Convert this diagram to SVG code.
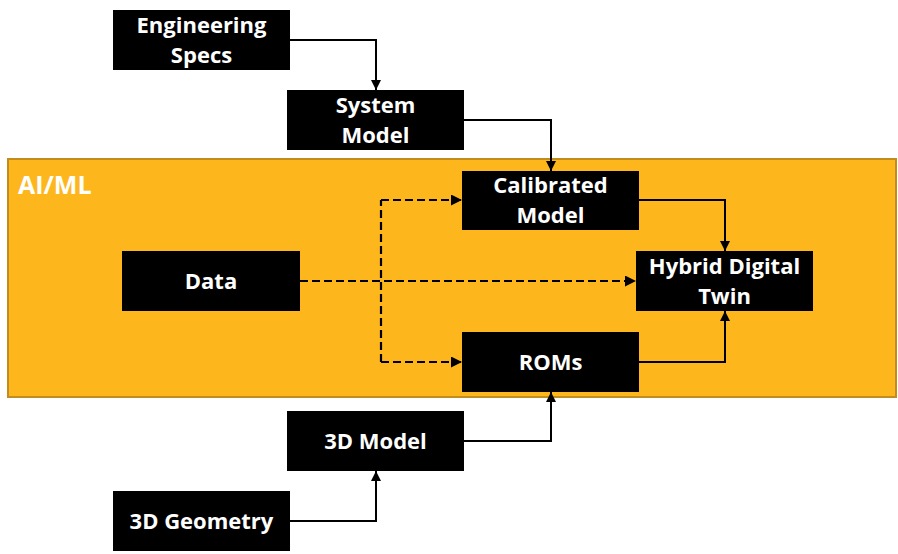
<svg xmlns="http://www.w3.org/2000/svg" width="898" height="554" viewBox="0 0 898 554">
<defs>
<marker id="ah" viewBox="0 0 10 10" refX="10" refY="5" markerWidth="5" markerHeight="5" orient="auto" markerUnits="strokeWidth">
<path d="M0,0 L10,5 L0,10 z" fill="#000"/>
</marker>
<style>
.box{fill:#000;}
.lbl{fill:#fff;font-family:"Open Sans","Liberation Sans",sans-serif;font-weight:bold;font-size:22px;text-anchor:middle;}
.solid{fill:none;stroke:#000;stroke-width:2;marker-end:url(#ah);}
.dash{fill:none;stroke:#000;stroke-width:2.2;stroke-dasharray:8,4;}
.dasharrow{marker-end:url(#ah);}
</style>
</defs>
<rect width="898" height="554" fill="#fff"/>
<g id="aiml">
<rect x="8" y="159" width="888" height="238" fill="#FDB71C" stroke="#C38D1E" stroke-width="2"/>
<text x="18" y="194" style="fill:#fff;font-family:'Open Sans','Liberation Sans',sans-serif;font-weight:bold;font-size:25px;">AI/ML</text>
</g>
<g id="connectors">
<polyline class="solid" points="290,40 376,40 376,90"/>
<polyline class="solid" points="464,120 551,120 551,171"/>
<polyline class="solid" points="638,200 725,200 725,251"/>
<polyline class="solid" points="638,362 725,362 725,311"/>
<polyline class="solid" points="463,441 551,441 551,392"/>
<polyline class="solid" points="290,521 376,521 376,471"/>
<polyline class="dash dasharrow" points="300,281 636,281"/>
<polyline class="dash" points="381,362 381,200"/>
<polyline class="dash dasharrow" points="381,200 462,200"/>
<polyline class="dash dasharrow" points="381,362 462,362"/>
</g>
<g id="engineering-specs">
<rect class="box" x="113" y="10" width="177" height="60"/>
<text class="lbl" x="201.5" y="33">Engineering</text>
<text class="lbl" x="201.5" y="63">Specs</text>
</g>
<g id="system-model">
<rect class="box" x="287" y="90" width="177" height="60"/>
<text class="lbl" x="375.5" y="113">System</text>
<text class="lbl" x="375.5" y="143">Model</text>
</g>
<g id="calibrated-model">
<rect class="box" x="462" y="171" width="177" height="59"/>
<text class="lbl" x="550.5" y="193">Calibrated</text>
<text class="lbl" x="550.5" y="223">Model</text>
</g>
<g id="data">
<rect class="box" x="122" y="251" width="178" height="60"/>
<text class="lbl" x="211" y="289">Data</text>
</g>
<g id="hybrid-digital-twin">
<rect class="box" x="636" y="251" width="177" height="60"/>
<text class="lbl" x="724.5" y="274">Hybrid Digital</text>
<text class="lbl" x="724.5" y="304">Twin</text>
</g>
<g id="roms">
<rect class="box" x="462" y="332" width="177" height="60"/>
<text class="lbl" x="550.5" y="370">ROMs</text>
</g>
<g id="model-3d">
<rect class="box" x="287" y="411" width="177" height="60"/>
<text class="lbl" x="375.5" y="449">3D Model</text>
</g>
<g id="geometry-3d">
<rect class="box" x="113" y="491" width="177" height="60"/>
<text class="lbl" x="201.5" y="529">3D Geometry</text>
</g>
</svg>
